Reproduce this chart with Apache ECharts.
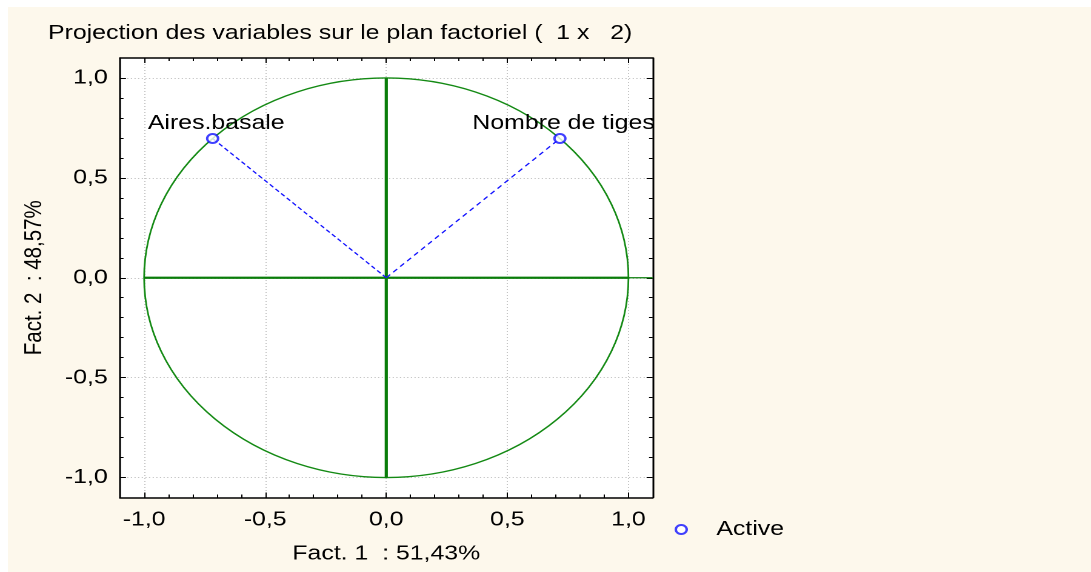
<!DOCTYPE html>
<html>
<head>
<meta charset="utf-8">
<script src="https://cdn.jsdelivr.net/npm/echarts@6/dist/echarts.min.js"></script>
<style>
  html, body { margin: 0; padding: 0; background: #ffffff; overflow: hidden; }
  #bg { position: absolute; left: 8px; top: 7px; width: 1083px; height: 565px; background: #fdf8ec; }
  #chart { position: absolute; left: 0; top: 0; width: 900px; height: 572px; transform: scaleX(1.2122); transform-origin: 0 0; }
</style>
</head>
<body>
<div id="bg"></div>
<div id="chart"></div>
<script>
// ---- data ----
const variables = ['Aires.basale', 'Nombre de tiges'];
const fact1 = [-0.717, 0.717];
const fact2 = [0.697, 0.697];
const majorTicks = [-1.0, -0.5, 0.0, 0.5, 1.0];
const minorTicks = [-1.0, -0.9, -0.8, -0.7, -0.6, -0.5, -0.4, -0.3, -0.2, -0.1, 0.0,
                    0.1, 0.2, 0.3, 0.4, 0.5, 0.6, 0.7, 0.8, 0.9, 1.0];
const axisRange = [-1.1, 1.1];
const circleDef = [[0, 0, 1]];            // centre x, centre y, radius
const hAxisLine = [[-1, 0], [1, 0]];
const hAxisTail = [[1, 0], [1.1, 0]];
const vAxisLine = [[0, -1], [0, 1]];
const origin = [0, 0];
const titleText = 'Projection des variables sur le plan factoriel (  1 x   2)';
const xName = 'Fact. 1  : 51,43%';
const yName = 'Fact. 2  : 48,57%';
const legendName = 'Active';

const FONT = '"Liberation Sans", Arial, sans-serif';
const FS = 20.5;
const fmt = v => v.toFixed(1).replace('.', ',');
const gridLine = { show: true, lineStyle: { color: '#c4c4c4', type: [1, 2], width: 1 } };
const axisLineStyle = { show: true, onZero: false, lineStyle: { color: '#000', width: 1.5 } };

function mkAxis(pos, major, withLabel, name, nameGap, nameRotate) {
  return {
    type: 'value', position: pos, min: axisRange[0], max: axisRange[1],
    axisLine: major ? axisLineStyle : { show: false, onZero: false },
    axisTick: { show: true, inside: true, length: major ? 5 : 3,
      lineStyle: { color: '#000', width: 1 },
      customValues: major ? majorTicks : minorTicks },
    axisLabel: withLabel ? { show: true, customValues: majorTicks, formatter: fmt,
      fontFamily: FONT, fontSize: FS, color: '#000', margin: pos === 'bottom' ? 12 : 10 } : { show: false },
    splitLine: (withLabel ? gridLine : { show: false }),
    name: name || '', nameLocation: 'middle', nameGap: nameGap || 0, nameRotate: nameRotate,
    nameTextStyle: { fontFamily: FONT, fontSize: FS, color: '#000' }
  };
}

const xAxes = [
  mkAxis('bottom', true, true, xName, 46),
  mkAxis('bottom', false, false),
  mkAxis('top', true, false),
  mkAxis('top', false, false)
];
const yAxes = [
  mkAxis('left', true, true, yName, 60, 90),
  mkAxis('left', false, false),
  mkAxis('right', true, false),
  mkAxis('right', false, false)
];

const pointData = variables.map((n, i) => ({ name: n, value: [fact1[i], fact2[i]] }));

const series = [
  {
    type: 'custom', name: 'cercle', silent: true, z: 3,
    data: circleDef,
    renderItem: function (params, api) {
      const c = api.coord([api.value(0), api.value(1)]);
      const ex = api.coord([api.value(0) + api.value(2), api.value(1)]);
      const ey = api.coord([api.value(0), api.value(1) + api.value(2)]);
      const rx = ex[0] - c[0];
      const ry = c[1] - ey[1];
      return {
        type: 'circle', x: c[0], y: c[1], scaleY: ry / rx,
        shape: { cx: 0, cy: 0, r: rx },
        style: { fill: 'none', stroke: '#148a14', lineWidth: 1.4 }
      };
    }
  },
  { type: 'line', name: 'h', data: hAxisLine, showSymbol: false, silent: true, z: 3,
    lineStyle: { color: '#0a7d0a', width: 2.2 } },
  { type: 'line', name: 'h2', data: hAxisTail, showSymbol: false, silent: true, z: 3,
    lineStyle: { color: '#0a7d0a', width: 1.2 } },
  { type: 'line', name: 'v', data: vAxisLine, showSymbol: false, silent: true, z: 3,
    lineStyle: { color: '#0a7d0a', width: 2.6 } },
  { type: 'line', name: 'vec1', data: [origin, [fact1[0], fact2[0]]], showSymbol: false, silent: true, z: 4,
    lineStyle: { color: '#1010ff', width: 1.2, type: [4, 2.5] } },
  { type: 'line', name: 'vec2', data: [origin, [fact1[1], fact2[1]]], showSymbol: false, silent: true, z: 4,
    lineStyle: { color: '#1010ff', width: 1.2, type: [4.5, 3.5] } },
  {
    type: 'scatter', name: legendName, data: pointData, z: 6,
    symbol: 'emptyCircle', symbolSize: 9,
    itemStyle: { color: '#1010ff', borderColor: '#1010ff', borderWidth: 1.2 },
    label: { show: true, position: 'top', distance: 2, offset: [3, 3], opacity: 1,
      textBorderWidth: 0, fontWeight: 'normal',
      formatter: p => p.name, fontFamily: FONT, fontSize: FS, color: '#000000' }
  }
];

const chart = echarts.init(document.getElementById('chart'), null, { renderer: 'canvas', devicePixelRatio: 2 });
chart.setOption({
  animation: false,
  backgroundColor: 'transparent',
  title: { text: titleText, left: 39.6, top: 23, padding: 0,
    textStyle: { fontFamily: FONT, fontSize: FS, fontWeight: 'normal', color: '#000' } },
  legend: { data: [{ name: legendName, icon: 'emptyCircle' }], left: 551.5, top: 514, itemWidth: 42, itemHeight: 9,
    textStyle: { fontFamily: FONT, fontSize: FS, color: '#000', padding: [0, 0, 0, 3] }, selectedMode: false },
  grid: { left: 98.9, top: 58, width: 439.5, height: 439.5, show: true, backgroundColor: '#fff', borderWidth: 0 },
  xAxis: xAxes,
  yAxis: yAxes,
  series: series
});
</script>
</body>
</html>
